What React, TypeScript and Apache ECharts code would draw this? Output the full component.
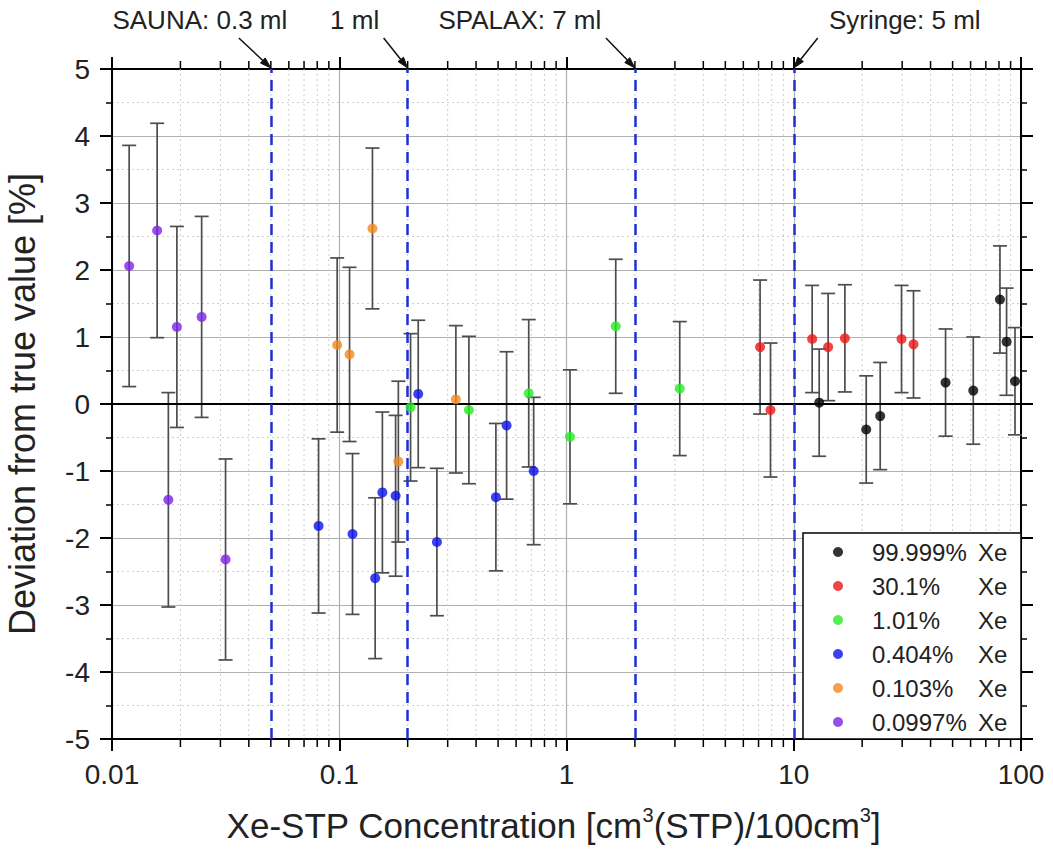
import React, { useEffect, useRef } from "react";
import * as echarts from "echarts";

const FONT = "'Liberation Sans', Arial, Helvetica, sans-serif";

// ---------- data ----------
const groupNames = ["99.999%", "30.1%", "1.01%", "0.404%", "0.103%", "0.0997%"];
const groupColors = ["#000000", "#ee1515", "#26ec26", "#0a12ee", "#f28a1e", "#7c22e8"];

const blackX = [12.94, 20.84, 24.01, 46.56, 61.66, 80.8, 86.4, 94.1];
const blackY = [0.02, -0.38, -0.18, 0.32, 0.2, 1.56, 0.93, 0.34];
const blackErr = [0.8, 0.8, 0.8, 0.8, 0.8, 0.8, 0.8, 0.8];

const redX = [7.11, 7.9, 12.05, 14.17, 16.79, 29.8, 33.65];
const redY = [0.85, -0.09, 0.97, 0.85, 0.98, 0.97, 0.89];
const redErr = [1.0, 1.0, 0.8, 0.8, 0.8, 0.8, 0.8];

const greenX = [0.206, 0.372, 0.682, 1.036, 1.647, 3.15];
const greenY = [-0.05, -0.09, 0.16, -0.49, 1.16, 0.23];
const greenErr = [1.1, 1.1, 1.1, 1.0, 1.0, 1.0];

const blueX = [0.0811, 0.1144, 0.1439, 0.1548, 0.177, 0.2226, 0.269, 0.489, 0.545, 0.717];
const blueY = [-1.82, -1.94, -2.6, -1.32, -1.37, 0.15, -2.06, -1.39, -0.32, -1.0];
const blueErr = [1.3, 1.2, 1.2, 1.2, 1.2, 1.1, 1.1, 1.1, 1.1, 1.1];

const orangeX = [0.0979, 0.111, 0.14, 0.182, 0.326];
const orangeY = [0.88, 0.74, 2.62, -0.86, 0.07];
const orangeErr = [1.3, 1.3, 1.2, 1.2, 1.1];

const purpleX = [0.0119, 0.0158, 0.0177, 0.0193, 0.0248, 0.0316];
const purpleY = [2.06, 2.59, -1.43, 1.15, 1.3, -2.32];
const purpleErr = [1.8, 1.6, 1.6, 1.5, 1.5, 1.5];

const groupsX = [blackX, redX, greenX, blueX, orangeX, purpleX];
const groupsY = [blackY, redY, greenY, blueY, orangeY, purpleY];
const groupsErr = [blackErr, redErr, greenErr, blueErr, orangeErr, purpleErr];

const xTickLabels = ["0.01", "0.1", "1", "10", "100"];
const xMinorTicks = [
  0.02, 0.03, 0.04, 0.05, 0.06, 0.07, 0.08, 0.09,
  0.2, 0.3, 0.4, 0.5, 0.6, 0.7, 0.8, 0.9,
  2, 3, 4, 5, 6, 7, 8, 9,
  20, 30, 40, 50, 60, 70, 80, 90,
];

const refValues = [0.05, 0.2, 2, 10];
const refLabels = ["SAUNA: 0.3 ml", "1 ml", "SPALAX: 7 ml", "Syringe: 5 ml"];
// layout offsets of annotation texts / arrow tails relative to arrow tips (px)
const refTextDx = [-71, -53, -115, 111];
const refArrowDx = [-32, -24, -29, 24];

export default function App() {
  const ref = useRef<HTMLDivElement>(null);

  useEffect(() => {
    if (!ref.current) return;
    const chart = echarts.init(ref.current, null, { renderer: "svg" });

    const errData: number[][] = [];
    groupsX.forEach((xs, g) => {
      xs.forEach((x, i) => {
        errData.push([x, groupsY[g][i] - groupsErr[g][i], groupsY[g][i] + groupsErr[g][i]]);
      });
    });

    const scatterSeries = groupNames.map((name, g) => ({
      name,
      type: "scatter",
      xAxisIndex: 0,
      yAxisIndex: 0,
      symbol: "circle",
      symbolSize: 10,
      itemStyle: { color: groupColors[g] },
      z: 6,
      data: groupsX[g].map((x, i) => [x, groupsY[g][i]]),
    }));

    const axisLineStyle = { color: "#000", width: 2 };

    const option: any = {
      animation: false,
      backgroundColor: "#fff",
      textStyle: { fontFamily: FONT },
      grid: {
        left: 112,
        right: 32,
        top: 69,
        bottom: 118,
        containLabel: false,
        outerBoundsMode: "none",
      },
      xAxis: [
        {
          type: "log",
          logBase: 10,
          min: 0.01,
          max: 100,
          position: "bottom",
          axisLine: { show: true, onZero: false, lineStyle: axisLineStyle },
          axisTick: { show: true, inside: false, length: 12, lineStyle: { color: "#000", width: 2 } },
          axisLabel: {
            fontFamily: FONT,
            fontSize: 28,
            color: "#222",
            margin: 21,
            formatter: (v: number) => xTickLabels[Math.round(Math.log10(v)) + 2] ?? "",
          },
          splitLine: { show: true, lineStyle: { color: "#b0b0b0", width: 1.2 } },
          name: "Xe-STP Concentration [cm{sup|3}(STP)/100cm{sup|3}]",
          nameLocation: "middle",
          nameGap: 66,
          nameTextStyle: {
            fontFamily: FONT,
            fontSize: 35,
            color: "#222",
            lineHeight: 40,
            padding: [0, 26, 0, 0],
            rich: {
              sup: { fontFamily: FONT, fontSize: 20, color: "#222", verticalAlign: "top", lineHeight: 22 },
            },
          },
        },
        {
          type: "log",
          logBase: 10,
          min: 0.01,
          max: 100,
          position: "top",
          axisLine: { show: true, onZero: false, lineStyle: axisLineStyle },
          axisTick: { show: true, inside: false, length: 12, lineStyle: { color: "#000", width: 2 } },
          axisLabel: { show: false },
          splitLine: { show: false },
        },
      ],
      yAxis: [
        {
          type: "value",
          min: -5,
          max: 5,
          interval: 1,
          position: "left",
          axisLine: { show: true, onZero: false, lineStyle: axisLineStyle },
          axisTick: { show: true, inside: false, length: 12, lineStyle: { color: "#000", width: 2 } },
          minorTick: { show: true, splitNumber: 2, length: 6, lineStyle: { color: "#000", width: 1.5 } },
          axisLabel: { fontFamily: FONT, fontSize: 28, color: "#222", margin: 22 },
          splitLine: { show: true, lineStyle: { color: "#b0b0b0", width: 1.2 } },
          minorSplitLine: { show: true, lineStyle: { color: "#cfcfcf", width: 1, type: [2, 3] } },
          name: "Deviation from true value [%]",
          nameLocation: "middle",
          nameGap: 72,
          nameTextStyle: { fontFamily: FONT, fontSize: 36, color: "#222" },
        },
        {
          type: "value",
          min: -5,
          max: 5,
          interval: 1,
          position: "right",
          axisLine: { show: true, onZero: false, lineStyle: axisLineStyle },
          axisTick: { show: true, inside: false, length: 12, lineStyle: { color: "#000", width: 2 } },
          minorTick: { show: true, splitNumber: 2, length: 6, lineStyle: { color: "#000", width: 1.5 } },
          axisLabel: { show: false },
          splitLine: { show: false },
        },
      ],
      legend: {
        show: true,
        orient: "vertical",
        left: 833,
        top: 540,
        padding: 0,
        itemWidth: 10,
        itemHeight: 10,
        itemGap: 10,
        icon: "circle",
        selectedMode: false,
        z: 10,
        data: groupNames,
        formatter: (name: string) => `{s| }{p|${name}}{x|Xe}`,
        textStyle: {
          fontFamily: FONT,
          fontSize: 24,
          color: "#222",
          lineHeight: 24,
          rich: {
            s: { width: 24, fontSize: 24, lineHeight: 24, fontFamily: FONT },
            p: { width: 106, fontSize: 24, lineHeight: 24, fontFamily: FONT, color: "#222" },
            x: { fontSize: 24, lineHeight: 24, fontFamily: FONT, color: "#222" },
          },
        },
      },
      series: [
        {
          type: "custom",
          name: "minorGrid",
          xAxisIndex: 0,
          yAxisIndex: 0,
          clip: false,
          silent: true,
          z: 1,
          encode: { x: 0, y: 1 },
          data: xMinorTicks.map((v) => [v, 0]),
          renderItem: (_params: any, api: any) => {
            const v = api.value(0);
            const top = api.coord([v, 5]);
            const bot = api.coord([v, -5]);
            return {
              type: "group",
              children: [
                {
                  type: "line",
                  shape: { x1: top[0], y1: top[1], x2: bot[0], y2: bot[1] },
                  style: { stroke: "#cdcdcd", lineWidth: 1, lineDash: [2, 3] },
                },
                {
                  type: "line",
                  shape: { x1: bot[0], y1: bot[1], x2: bot[0], y2: bot[1] + 8 },
                  style: { stroke: "#000", lineWidth: 1.5 },
                },
                {
                  type: "line",
                  shape: { x1: top[0], y1: top[1], x2: top[0], y2: top[1] - 8 },
                  style: { stroke: "#000", lineWidth: 1.5 },
                },
              ],
            };
          },
          markLine: {
            silent: true,
            symbol: ["none", "none"],
            label: { show: false },
            animation: false,
            data: [
              { yAxis: 0, lineStyle: { color: "#000", width: 2, type: "solid" } },
              ...refValues.map((v) => ({
                xAxis: v,
                lineStyle: { color: "#2030d0", width: 2.5, type: [11, 7] },
              })),
            ],
          },
        },
        {
          type: "custom",
          name: "errorBars",
          xAxisIndex: 0,
          yAxisIndex: 0,
          silent: true,
          z: 3,
          encode: { x: 0, y: [1, 2] },
          data: errData,
          renderItem: (_params: any, api: any) => {
            const x = api.value(0);
            const lo = api.coord([x, api.value(1)]);
            const hi = api.coord([x, api.value(2)]);
            const hw = 7;
            const st = { stroke: "#4d4d4d", lineWidth: 1.7 };
            return {
              type: "group",
              children: [
                { type: "line", shape: { x1: lo[0], y1: lo[1], x2: hi[0], y2: hi[1] }, style: st },
                { type: "line", shape: { x1: hi[0] - hw, y1: hi[1], x2: hi[0] + hw, y2: hi[1] }, style: st },
                { type: "line", shape: { x1: lo[0] - hw, y1: lo[1], x2: lo[0] + hw, y2: lo[1] }, style: st },
              ],
            };
          },
        },
        ...scatterSeries,
      ],
    };

    chart.setOption(option);

    // annotations (arrows + labels) positioned from the axis scale
    const graphics: any[] = [
      {
        type: "rect",
        z: 5,
        shape: { x: 803, y: 533, width: 218, height: 206 },
        style: { fill: "#fff", stroke: "#000", lineWidth: 1.5 },
      },
    ];
    refValues.forEach((v, i) => {
      const tip = chart.convertToPixel({ gridIndex: 0 }, [v, 5]) as number[];
      const tx = tip[0];
      const ty = tip[1] - 1;
      const sx = tx + refArrowDx[i];
      const sy = ty - 30;
      const dx = tx - sx;
      const dy = ty - sy;
      const len = Math.sqrt(dx * dx + dy * dy);
      const ux = dx / len;
      const uy = dy / len;
      const bx = tx - ux * 11;
      const by = ty - uy * 11;
      const px = -uy * 3.5;
      const py = ux * 3.5;
      graphics.push({
        type: "line",
        z: 20,
        shape: { x1: sx, y1: sy, x2: bx, y2: by },
        style: { stroke: "#111", lineWidth: 1.5 },
      });
      graphics.push({
        type: "polygon",
        z: 20,
        shape: { points: [[tx, ty], [bx + px, by + py], [bx - px, by - py]] },
        style: { fill: "#111", stroke: "#111", lineWidth: 1 },
      });
      graphics.push({
        type: "text",
        z: 20,
        x: tx + refTextDx[i],
        y: 20,
        style: {
          text: refLabels[i],
          fill: "#222",
          font: `26px ${FONT}`,
          fontSize: 26,
          fontFamily: FONT,
          align: "center",
          verticalAlign: "middle",
          textAlign: "center",
          textVerticalAlign: "middle",
        },
      });
    });
    chart.setOption({ graphic: graphics });

    return () => chart.dispose();
  }, []);

  return (
    <div
      ref={ref}
      style={{ position: "fixed", left: 0, top: 0, width: 1053, height: 857, background: "#fff" }}
    />
  );
}
